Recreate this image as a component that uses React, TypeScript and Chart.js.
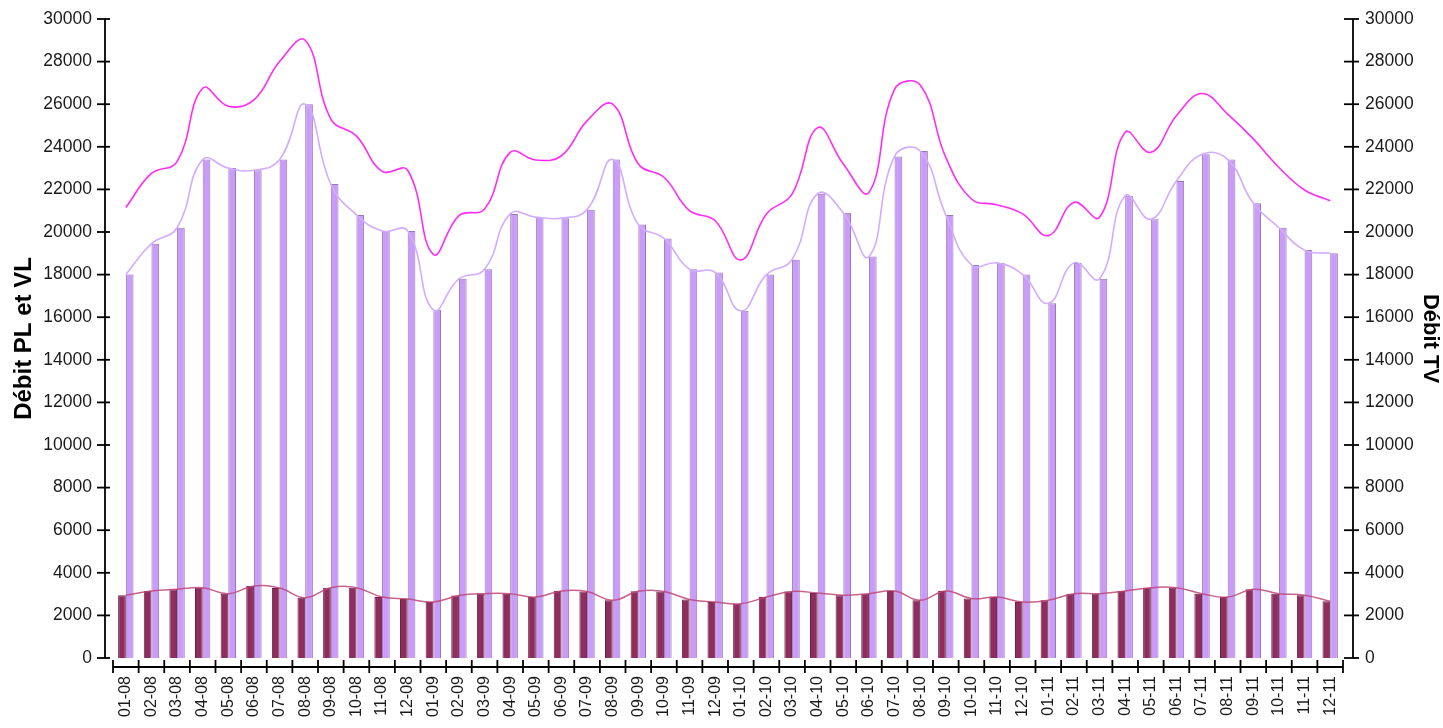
import React, { useEffect, useRef } from "react";
import { Chart, registerables } from "chart.js";

Chart.register(...registerables);

const labels = [
  "01-08", "02-08", "03-08", "04-08", "05-08", "06-08", "07-08", "08-08", "09-08", "10-08", "11-08", "12-08",
  "01-09", "02-09", "03-09", "04-09", "05-09", "06-09", "07-09", "08-09", "09-09", "10-09", "11-09", "12-09",
  "01-10", "02-10", "03-10", "04-10", "05-10", "06-10", "07-10", "08-10", "09-10", "10-10", "11-10", "12-10",
  "01-11", "02-11", "03-11", "04-11", "05-11", "06-11", "07-11", "08-11", "09-11", "10-11", "11-11", "12-11",
];

const debitPL = [
  2950, 3150, 3230, 3300, 3020, 3380, 3290, 2830, 3300, 3300, 2860, 2770,
  2630, 2930, 3020, 3020, 2860, 3150, 3120, 2710, 3130, 3120, 2750, 2630,
  2550, 2860, 3120, 3050, 2950, 3020, 3150, 2710, 3150, 2790, 2860, 2630,
  2710, 3020, 3020, 3150, 3300, 3300, 3020, 2860, 3230, 3020, 2950, 2670,
];

const debitVL = [
  18000, 19450, 20200, 23400, 23000, 22900, 23400, 26000, 22250, 20800, 20050, 20050,
  16350, 17800, 18250, 20850, 20700, 20650, 21050, 23400, 20350, 19700, 18250, 18100,
  16300, 18000, 18700, 21800, 20900, 18850, 23550, 23800, 20800, 18450, 18550, 18000,
  16650, 18550, 17800, 21700, 20600, 22400, 23650, 23400, 21350, 20200, 19150, 19000,
];

const debitTV = [
  21150, 22750, 23300, 26750, 25900, 26200, 28000, 29000, 25300, 24500, 22850, 22900,
  18950, 20770, 21080, 23740, 23380, 23580, 25220, 26000, 23190, 22570, 21000, 20530,
  18690, 20850, 21780, 24900, 23190, 21860, 26700, 26900, 23500, 21550, 21280, 20850,
  19830, 21390, 20690, 24680, 23740, 25460, 26500, 25530, 24370, 23030, 21970, 21470,
];

const yMin = 0;
const yMax = 30000;
const yStep = 2000;

const FONT = "'Liberation Sans', Arial, Helvetica, sans-serif";
const TEXT = "#1a1a1a";

const axisPlugin = {
  id: "customAxes",
  afterDraw(chart: any) {
    const { ctx, chartArea, scales } = chart;
    const y = scales.y;
    const y1 = scales.y1;
    const x = scales.x;
    ctx.save();
    ctx.strokeStyle = "#000";
    ctx.lineWidth = 1.8;
    const seg = (x1: number, yA: number, x2: number, yB: number) => {
      ctx.beginPath();
      ctx.moveTo(x1, yA);
      ctx.lineTo(x2, yB);
      ctx.stroke();
    };
    // left axis
    const lx = chartArea.left - 8;
    seg(lx, y.getPixelForValue(yMax), lx, y.getPixelForValue(yMin));
    y.ticks.forEach((t: any) => {
      const py = y.getPixelForValue(t.value);
      seg(lx - 8, py, lx + 5, py);
    });
    // right axis
    const rx = chartArea.right + 10;
    seg(rx, y1.getPixelForValue(yMax), rx, y1.getPixelForValue(yMin));
    y1.ticks.forEach((t: any) => {
      const py = y1.getPixelForValue(t.value);
      seg(rx - 9, py, rx + 6, py);
    });
    // x axis
    const by = y.getPixelForValue(0) + 9;
    const step = x.getPixelForValue(1) - x.getPixelForValue(0);
    const start = x.getPixelForValue(0) - step / 2;
    seg(start, by, start + step * labels.length, by);
    for (let i = 0; i <= labels.length; i++) {
      const px = start + i * step;
      seg(px, by - 7, px, by + 6);
    }
    ctx.restore();
  },
};

export default function App() {
  const ref = useRef<HTMLCanvasElement | null>(null);

  useEffect(() => {
    if (!ref.current) return;
    const chart = new Chart(ref.current, {
      type: "bar",
      data: {
        labels,
        datasets: [
          {
            type: "line",
            label: "Débit TV",
            data: debitTV,
            yAxisID: "y1",
            borderColor: "#ff2cf5",
            borderWidth: 1.6,
            pointRadius: 0,
            tension: 0.42,
            fill: false,
            order: 0,
          },
          {
            type: "line",
            label: "Débit VL (courbe)",
            data: debitVL,
            yAxisID: "y",
            borderColor: "#d2acff",
            borderWidth: 1.6,
            pointRadius: 0,
            tension: 0.45,
            fill: false,
            order: 0,
          },
          {
            type: "line",
            label: "Débit PL (courbe)",
            data: debitPL,
            yAxisID: "y",
            borderColor: "rgba(190, 70, 120, 0.85)",
            borderWidth: 1.5,
            pointRadius: 0,
            tension: 0.42,
            fill: false,
            order: 0,
          },
          {
            type: "bar",
            label: "Débit PL",
            data: debitPL,
            yAxisID: "y",
            backgroundColor: "#8f2d5d",
            borderColor: "#6d1f45",
            borderWidth: 1,
            categoryPercentage: 0.6,
            barPercentage: 1.0,
            order: 1,
          },
          {
            type: "bar",
            label: "Débit VL",
            data: debitVL,
            yAxisID: "y",
            backgroundColor: "#c99cf7",
            borderColor: "#9877bd",
            borderWidth: 1,
            categoryPercentage: 0.6,
            barPercentage: 1.0,
            order: 1,
          },
        ],
      },
      options: {
        responsive: false,
        animation: false,
        devicePixelRatio: 1,
        layout: { padding: { top: 19, bottom: 0, left: 0, right: 0 } },
        plugins: {
          legend: { display: false },
          tooltip: { enabled: false },
        },
        scales: {
          x: {
            type: "category",
            offset: true,
            grid: { display: false, drawTicks: false },
            border: { display: false },
            ticks: {
              autoSkip: false,
              minRotation: 90,
              maxRotation: 90,
              padding: 18,
              color: TEXT,
              font: { family: FONT, size: 16 },
            },
            afterFit: (s: any) => {
              s.height = 70;
              s.paddingLeft = 0;
              s.paddingRight = 0;
              s.paddingTop = 0;
              s.paddingBottom = 0;
            },
          },
          y: {
            type: "linear",
            position: "left",
            min: yMin,
            max: yMax,
            grid: { display: false, drawTicks: false },
            border: { display: false },
            ticks: {
              stepSize: yStep,
              padding: 21,
              color: TEXT,
              font: { family: FONT, size: 17.5 },
              callback: (v: any) => String(v),
            },
            title: {
              display: true,
              text: "Débit PL et VL",
              color: "#000",
              font: { family: FONT, size: 24, weight: "bold" },
              padding: { top: 10, bottom: 0 },
            },
            afterFit: (s: any) => {
              s.width = 113;
              s.paddingTop = 0;
              s.paddingBottom = 0;
            },
          },
          y1: {
            type: "linear",
            position: "right",
            min: yMin,
            max: yMax,
            grid: { display: false, drawTicks: false },
            border: { display: false },
            ticks: {
              stepSize: yStep,
              padding: 22,
              color: TEXT,
              font: { family: FONT, size: 17.5 },
              callback: (v: any) => String(v),
            },
            title: {
              display: true,
              text: "Débit TV",
              color: "#000",
              font: { family: FONT, size: 22, weight: "bold" },
              padding: { top: 0, bottom: 0 },
            },
            afterFit: (s: any) => {
              s.width = 100;
              s.paddingTop = 0;
              s.paddingBottom = 0;
            },
          },
        },
      },
      plugins: [axisPlugin],
    });
    return () => chart.destroy();
  }, []);

  return (
    <div style={{ position: "fixed", left: 0, top: 0, width: 1443, height: 728, background: "#fff" }}>
      <canvas ref={ref} width={1443} height={728} style={{ width: 1443, height: 728, display: "block" }} />
    </div>
  );
}
